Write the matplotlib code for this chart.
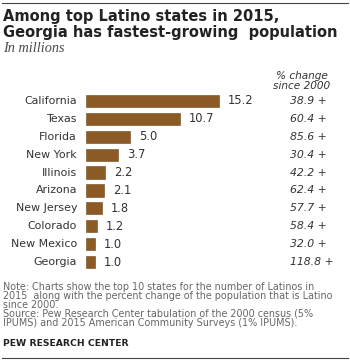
import matplotlib

matplotlib.use("Agg")
import matplotlib.pyplot as plt
from matplotlib.lines import Line2D

states = ["California", "Texas", "Florida", "New York", "Illinois",
          "Arizona", "New Jersey", "Colorado", "New Mexico", "Georgia"]
latinos_2015 = [15.2, 10.7, 5.0, 3.7, 2.2, 2.1, 1.8, 1.2, 1.0, 1.0]
pct_change = ["38.9", "60.4", "85.6", "30.4", "42.2",
              "62.4", "57.7", "58.4", "32.0", "118.8"]

note_lines = [
    "Note: Charts show the top 10 states for the number of Latinos in",
    "2015  along with the percent change of the population that is Latino",
    "since 2000.",
    "Source: Pew Research Center tabulation of the 2000 census (5%",
    "IPUMS) and 2015 American Community Surveys (1% IPUMS).",
]

W, H = 350, 364
BAR_COLOR = "#8c5a24"
TEXT = "#333333"
PX_PER_UNIT = 8.75

fig = plt.figure(figsize=(W / 100, H / 100), dpi=100)


def fx(px):
    return px / W


def fy(py):
    return 1 - py / H


# bar axes: left edge at x=86px, rows from ~101 to ~262px
ax = fig.add_axes([fx(86), fy(271), fx(300) - fx(86), (271 - 92) / H])
ax.barh(range(len(states)), latinos_2015, height=0.68, color=BAR_COLOR,
        edgecolor="#6b4a1c", linewidth=0.4)
ax.set_xlim(0, 214 / PX_PER_UNIT)
ax.set_ylim(len(states) - 0.5, -0.5)
ax.axis("off")
for i, (s, v) in enumerate(zip(states, latinos_2015)):
    ax.text(-9 / PX_PER_UNIT, i, s, ha="right", va="center", fontsize=7.9, color=TEXT,
            family="DejaVu Sans")
    ax.text(v + 9 / PX_PER_UNIT, i, f"{v:.1f}", ha="left", va="center", fontsize=8.3,
            color=TEXT, family="DejaVu Sans")
    ax.text(204 / PX_PER_UNIT, i, f"{pct_change[i]} +", ha="left", va="center",
            fontsize=7.8, color=TEXT, style="italic", family="DejaVu Sans")

# rules
fig.add_artist(Line2D([fx(2), fx(348)], [fy(3), fy(3)], color="#444444", lw=0.8))
fig.add_artist(Line2D([fx(2), fx(348)], [fy(358), fy(358)], color="#444444", lw=0.8))

fig.text(fx(3), fy(17), "Among top Latino states in 2015,", ha="left", va="center",
         fontsize=10.5, fontweight="bold", color="#222222", family="DejaVu Sans")
fig.text(fx(3), fy(32), "Georgia has fastest-growing  population", ha="left", va="center",
         fontsize=10.5, fontweight="bold", color="#222222", family="DejaVu Sans")
fig.text(fx(3), fy(48), "In millions", ha="left", va="center", fontsize=10.3,
         style="italic", color="#4a4a4a", family="Liberation Serif")
fig.text(fx(302), fy(76), "% change", ha="center", va="center", fontsize=7.6,
         style="italic", color=TEXT, family="DejaVu Sans")
fig.text(fx(302), fy(86), "since 2000", ha="center", va="center", fontsize=7.6,
         style="italic", color=TEXT, family="DejaVu Sans")

for k, line in enumerate(note_lines):
    fig.text(fx(3), fy(287 + 9 * k), line, ha="left", va="center", fontsize=6.9,
             color="#666666", family="DejaVu Sans")
fig.text(fx(3), fy(344), "PEW RESEARCH CENTER", ha="left", va="center", fontsize=6.7,
         fontweight="bold", color="#222222", family="DejaVu Sans")

fig.savefig("out.png", dpi=100)
